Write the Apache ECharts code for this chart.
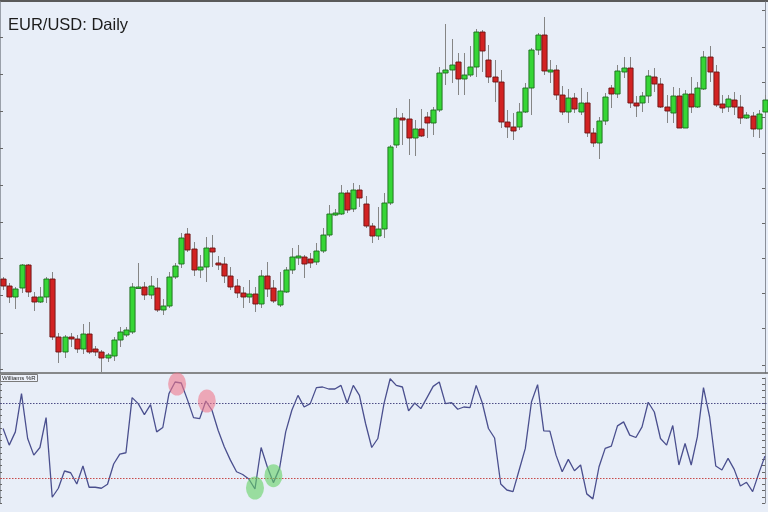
<!DOCTYPE html>
<html><head><meta charset="utf-8">
<script src="https://cdn.jsdelivr.net/npm/echarts@6/dist/echarts.min.js"></script>
<style>html,body{margin:0;padding:0;background:#e8eef8}#c{width:768px;height:512px}</style>
</head><body><div id="c"></div>
<script>
const openP = [1.1186,1.1172,1.1150,1.1168,1.1214,1.1150,1.1140,1.1150,1.1186,1.1070,
1.1040,1.1070,1.1066,1.1046,1.1076,1.1046,1.1040,1.1028,1.1032,1.1064,
1.1074,1.1080,1.1168,1.1170,1.1154,1.1168,1.1124,1.1132,1.1190,1.1216,
1.1276,1.1246,1.1204,1.1210,1.1248,1.1218,1.1216,1.1192,1.1172,1.1158,
1.1150,1.1156,1.1136,1.1192,1.1168,1.1134,1.1160,1.1204,1.1228,1.1230,
1.1226,1.1220,1.1242,1.1274,1.1314,1.1316,1.1358,1.1326,1.1364,1.1336,
1.1292,1.1272,1.1286,1.1338,1.1454,1.1508,1.1506,1.1468,1.1486,1.1510,
1.1498,1.1524,1.1598,1.1604,1.1620,1.1586,1.1594,1.1610,1.1680,1.1624,
1.1590,1.1580,1.1500,1.1490,1.1490,1.1520,1.1568,1.1644,1.1674,1.1600,
1.1604,1.1554,1.1520,1.1548,1.1520,1.1538,1.1478,1.1458,1.1502,1.1568,
1.1556,1.1600,1.1608,1.1538,1.1538,1.1552,1.1590,1.1576,1.1530,1.1518,
1.1552,1.1488,1.1556,1.1530,1.1566,1.1630,1.1600,1.1536,1.1530,1.1544,
1.1530,1.1508,1.1512,1.1486,1.1520];
const closeP = [1.1172,1.1150,1.1166,1.1214,1.1160,1.1140,1.1150,1.1186,1.1070,1.1040,
1.1070,1.1066,1.1046,1.1076,1.1040,1.1040,1.1028,1.1034,1.1064,1.1080,
1.1084,1.1170,1.1170,1.1154,1.1172,1.1124,1.1132,1.1190,1.1212,1.1268,
1.1244,1.1204,1.1210,1.1248,1.1240,1.1214,1.1192,1.1170,1.1158,1.1150,
1.1156,1.1136,1.1192,1.1166,1.1142,1.1162,1.1204,1.1230,1.1232,1.1216,
1.1218,1.1242,1.1274,1.1316,1.1318,1.1358,1.1324,1.1364,1.1348,1.1292,
1.1272,1.1286,1.1338,1.1450,1.1508,1.1504,1.1468,1.1486,1.1472,1.1498,
1.1524,1.1598,1.1604,1.1614,1.1586,1.1594,1.1610,1.1680,1.1642,1.1590,
1.1580,1.1500,1.1490,1.1482,1.1520,1.1568,1.1644,1.1674,1.1602,1.1604,
1.1554,1.1520,1.1548,1.1526,1.1538,1.1478,1.1458,1.1502,1.1550,1.1556,
1.1602,1.1608,1.1538,1.1532,1.1552,1.1592,1.1576,1.1530,1.1522,1.1552,
1.1488,1.1556,1.1530,1.1568,1.1630,1.1600,1.1534,1.1528,1.1546,1.1530,
1.1508,1.1514,1.1486,1.1516,1.1544];
const lowP = [1.1164,1.1138,1.1126,1.1158,1.1150,1.1122,1.1138,1.1138,1.1064,1.1018,
1.1028,1.1050,1.1038,1.1036,1.1036,1.1032,1.1000,1.1020,1.1022,1.1050,
1.1070,1.1076,1.1168,1.1144,1.1146,1.1120,1.1114,1.1128,1.1186,1.1208,
1.1240,1.1192,1.1188,1.1180,1.1210,1.1204,1.1178,1.1164,1.1148,1.1128,
1.1138,1.1120,1.1128,1.1150,1.1138,1.1130,1.1158,1.1196,1.1214,1.1188,
1.1208,1.1214,1.1238,1.1270,1.1312,1.1314,1.1318,1.1320,1.1330,1.1288,
1.1258,1.1264,1.1268,1.1334,1.1448,1.1454,1.1434,1.1432,1.1470,1.1468,
1.1474,1.1520,1.1574,1.1578,1.1554,1.1554,1.1590,1.1590,1.1600,1.1578,
1.1540,1.1488,1.1468,1.1464,1.1484,1.1518,1.1514,1.1634,1.1594,1.1578,
1.1544,1.1514,1.1498,1.1518,1.1514,1.1470,1.1450,1.1426,1.1494,1.1528,
1.1548,1.1588,1.1528,1.1510,1.1520,1.1538,1.1560,1.1528,1.1498,1.1498,
1.1488,1.1488,1.1518,1.1528,1.1564,1.1580,1.1530,1.1518,1.1520,1.1514,
1.1496,1.1506,1.1470,1.1468,1.1514];
const highP = [1.1190,1.1178,1.1170,1.1216,1.1216,1.1160,1.1170,1.1190,1.1200,1.1078,
1.1074,1.1078,1.1074,1.1096,1.1100,1.1052,1.1044,1.1038,1.1070,1.1090,
1.1090,1.1178,1.1218,1.1180,1.1192,1.1188,1.1146,1.1200,1.1218,1.1278,
1.1288,1.1260,1.1234,1.1270,1.1274,1.1232,1.1230,1.1210,1.1186,1.1170,
1.1184,1.1170,1.1204,1.1220,1.1184,1.1200,1.1210,1.1248,1.1254,1.1234,
1.1238,1.1258,1.1288,1.1334,1.1326,1.1374,1.1364,1.1378,1.1374,1.1352,
1.1298,1.1330,1.1358,1.1454,1.1528,1.1518,1.1546,1.1504,1.1526,1.1520,
1.1530,1.1610,1.1696,1.1666,1.1638,1.1638,1.1652,1.1686,1.1684,1.1654,
1.1624,1.1604,1.1524,1.1518,1.1538,1.1578,1.1648,1.1678,1.1710,1.1624,
1.1614,1.1572,1.1566,1.1558,1.1568,1.1560,1.1488,1.1510,1.1558,1.1574,
1.1614,1.1630,1.1630,1.1552,1.1560,1.1604,1.1608,1.1588,1.1554,1.1570,
1.1568,1.1564,1.1590,1.1580,1.1642,1.1652,1.1614,1.1554,1.1554,1.1560,
1.1554,1.1520,1.1520,1.1524,1.1554];
const willR = [-40.4,-53.7,-43.1,-12.5,-48.4,-61.7,-55.6,-31.7,-95.4,-88.2,
-74.4,-75.8,-84.8,-70.4,-87.4,-87.4,-88.2,-85.0,-68.8,-60.9,
-59.8,-15.7,-20.5,-29.3,-21.3,-43.1,-39.6,-12.5,-3.2,-4.0,
-17.3,-31.7,-32.5,-18.4,-25.8,-41.8,-55.0,-65.7,-75.0,-77.2,
-80.8,-88.8,-55.6,-71.0,-83.7,-72.3,-43.1,-25.8,-13.9,-23.2,
-20.5,-7.7,-7.2,-8.8,-8.8,-5.9,-20.0,-5.9,-13.9,-36.4,
-55.6,-48.4,-20.5,-0.6,-5.9,-7.2,-26.3,-20.0,-24.5,-15.7,
-6.7,-3.2,-20.5,-19.7,-25.0,-23.2,-23.7,-5.9,-20.0,-40.4,
-48.0,-84.8,-89.6,-90.9,-73.6,-56.3,-19.2,-5.3,-42.3,-42.5,
-61.7,-75.0,-65.1,-74.2,-69.6,-92.7,-96.7,-71.0,-56.3,-54.5,
-38.3,-35.1,-45.7,-47.6,-39.1,-19.4,-27.2,-48.4,-53.7,-38.0,
-69.6,-52.4,-69.6,-47.1,-7.7,-31.2,-70.4,-73.6,-64.3,-73.1,
-86.4,-83.4,-90.9,-76.3,-62.5];
const wrLevels = [-20, -80];
const overboughtIdx = [28, 33];
const oversoldIdx = [41, 44];
const priceTicksLeft = [1.1670,1.1596,1.1522,1.1448,1.1374,1.1300,1.1228,1.1154,1.1078,1.1006];
const priceTicksRight = [1.1724,1.1650,1.1580,1.1510,1.1438,1.1368,1.1298,1.1228,1.1158,1.1088,1.1014];
const days = openP.map((_, i) => 'D' + (i + 1));
const candles = days.map((d, i) => [i, openP[i], closeP[i], lowP[i], highP[i]]);

function renderCandle(params, api) {
  const i = api.value(0), o = api.value(1), c = api.value(2), l = api.value(3), h = api.value(4);
  const pO = api.coord([i, o]), pC = api.coord([i, c]), pL = api.coord([i, l]), pH = api.coord([i, h]);
  const w = api.size([1, 0])[0] * 0.84;
  const up = c >= o;
  const x = Math.round(pO[0]) + 0.5;
  const top = Math.min(pO[1], pC[1]), bot = Math.max(pO[1], pC[1]);
  const hgt = Math.max(bot - top, 1.5);
  return {type: 'group', children: [
    {type: 'line', shape: {x1: x, y1: pH[1], x2: x, y2: pL[1]}, style: {stroke: '#858585', lineWidth: 1}},
    {type: 'rect', shape: {x: x - w / 2, y: top, width: w, height: hgt},
     style: {fill: up ? '#36d636' : '#d22222', stroke: up ? '#1d6b1d' : '#6a1515', lineWidth: 0.9}}
  ]};
}

const chart = echarts.init(document.getElementById('c'));
const tickStyle = {color: '#666', width: 1};
chart.setOption({
  backgroundColor: '#e8eef8',
  animation: false,
  title: [
    {text: 'EUR/USD: Daily', left: 3, top: 12, textStyle: {fontSize: 16.5, fontWeight: 'normal', color: '#1c1c1c', fontFamily: 'Liberation Sans, Arial, sans-serif'}},
    {text: 'Williams %R', left: 0, top: 374, padding: [1, 2, 1, 2], borderWidth: 1, borderColor: '#7a7a7a', backgroundColor: '#eef2fb',
     textStyle: {fontSize: 6, fontWeight: 'normal', color: '#222', fontFamily: 'Liberation Sans, Arial, sans-serif'}}
  ],
  graphic: [{type: 'rect', left: 0, top: 0, shape: {width: 768, height: 2}, style: {fill: '#5a5a5a'}}],
  grid: [
    {left: 0, top: 2, width: 770, height: 371},
    {left: 0, top: 378, width: 770, height: 125}
  ],
  xAxis: [
    {type: 'category', gridIndex: 0, data: days, boundaryGap: true,
     axisLine: {show: true, lineStyle: {color: '#666', width: 1.5}}, axisTick: {show: false}, axisLabel: {show: false}, splitLine: {show: false}},
    {type: 'category', gridIndex: 1, data: days, boundaryGap: true, show: false}
  ],
  yAxis: [
    {type: 'value', gridIndex: 0, min: 1.0998, max: 1.1740, position: 'left', scale: true,
     axisLine: {show: true, lineStyle: {color: '#9aa0aa'}}, axisTick: {show: true, inside: true, length: 3, customValues: priceTicksLeft, lineStyle: tickStyle},
     axisLabel: {show: false}, splitLine: {show: false}},
    {type: 'value', gridIndex: 0, min: 1.0998, max: 1.1740, position: 'right', offset: -3, scale: true,
     axisLine: {show: true, lineStyle: {color: '#8a8f99'}}, axisTick: {show: true, inside: true, length: 3, customValues: priceTicksRight, lineStyle: tickStyle},
     axisLabel: {show: false}, splitLine: {show: false}},
    {type: 'value', gridIndex: 1, min: -100, max: 0, interval: 5, position: 'left',
     axisLine: {show: true, lineStyle: {color: '#9aa0aa'}}, axisTick: {show: true, inside: true, length: 2, lineStyle: tickStyle},
     axisLabel: {show: false}, splitLine: {show: false}},
    {type: 'value', gridIndex: 1, min: -100, max: 0, interval: 5, position: 'right', offset: -3,
     axisLine: {show: true, lineStyle: {color: '#8a8f99'}}, axisTick: {show: true, inside: true, length: 3, lineStyle: tickStyle},
     axisLabel: {show: false}, splitLine: {show: false}}
  ],
  series: [
    {type: 'custom', xAxisIndex: 0, yAxisIndex: 0, renderItem: renderCandle, data: candles,
     encode: {x: 0, y: [1, 2, 3, 4]}, clip: true},
    {type: 'line', xAxisIndex: 1, yAxisIndex: 2, data: willR, symbol: 'none', z: 3,
     lineStyle: {color: '#4a4f8e', width: 1.3},
     markLine: {silent: true, symbol: 'none', label: {show: false}, animation: false,
       data: [
         {yAxis: wrLevels[0], lineStyle: {color: '#4d4d86', type: [1.5, 1.5], width: 1}},
         {yAxis: wrLevels[1], lineStyle: {color: '#c84a4a', type: [1.5, 1.5], width: 1}}
       ]},
     markPoint: {silent: true, label: {show: false}, symbol: 'circle', symbolSize: [18, 23],
       data: [
         {coord: [days[overboughtIdx[0]], willR[overboughtIdx[0]]], symbolOffset: [2, 2], itemStyle: {color: 'rgba(238,120,140,0.6)'}},
         {coord: [days[overboughtIdx[1]], willR[overboughtIdx[1]]], symbolOffset: [1, 0], itemStyle: {color: 'rgba(238,120,140,0.6)'}},
         {coord: [days[oversoldIdx[0]], willR[oversoldIdx[0]]], symbolOffset: [0, -1], itemStyle: {color: 'rgba(100,210,100,0.6)'}},
         {coord: [days[oversoldIdx[1]], willR[oversoldIdx[1]]], symbolOffset: [0, -7], itemStyle: {color: 'rgba(100,210,100,0.6)'}}
       ]}}
  ]
});
</script>
</body></html>
